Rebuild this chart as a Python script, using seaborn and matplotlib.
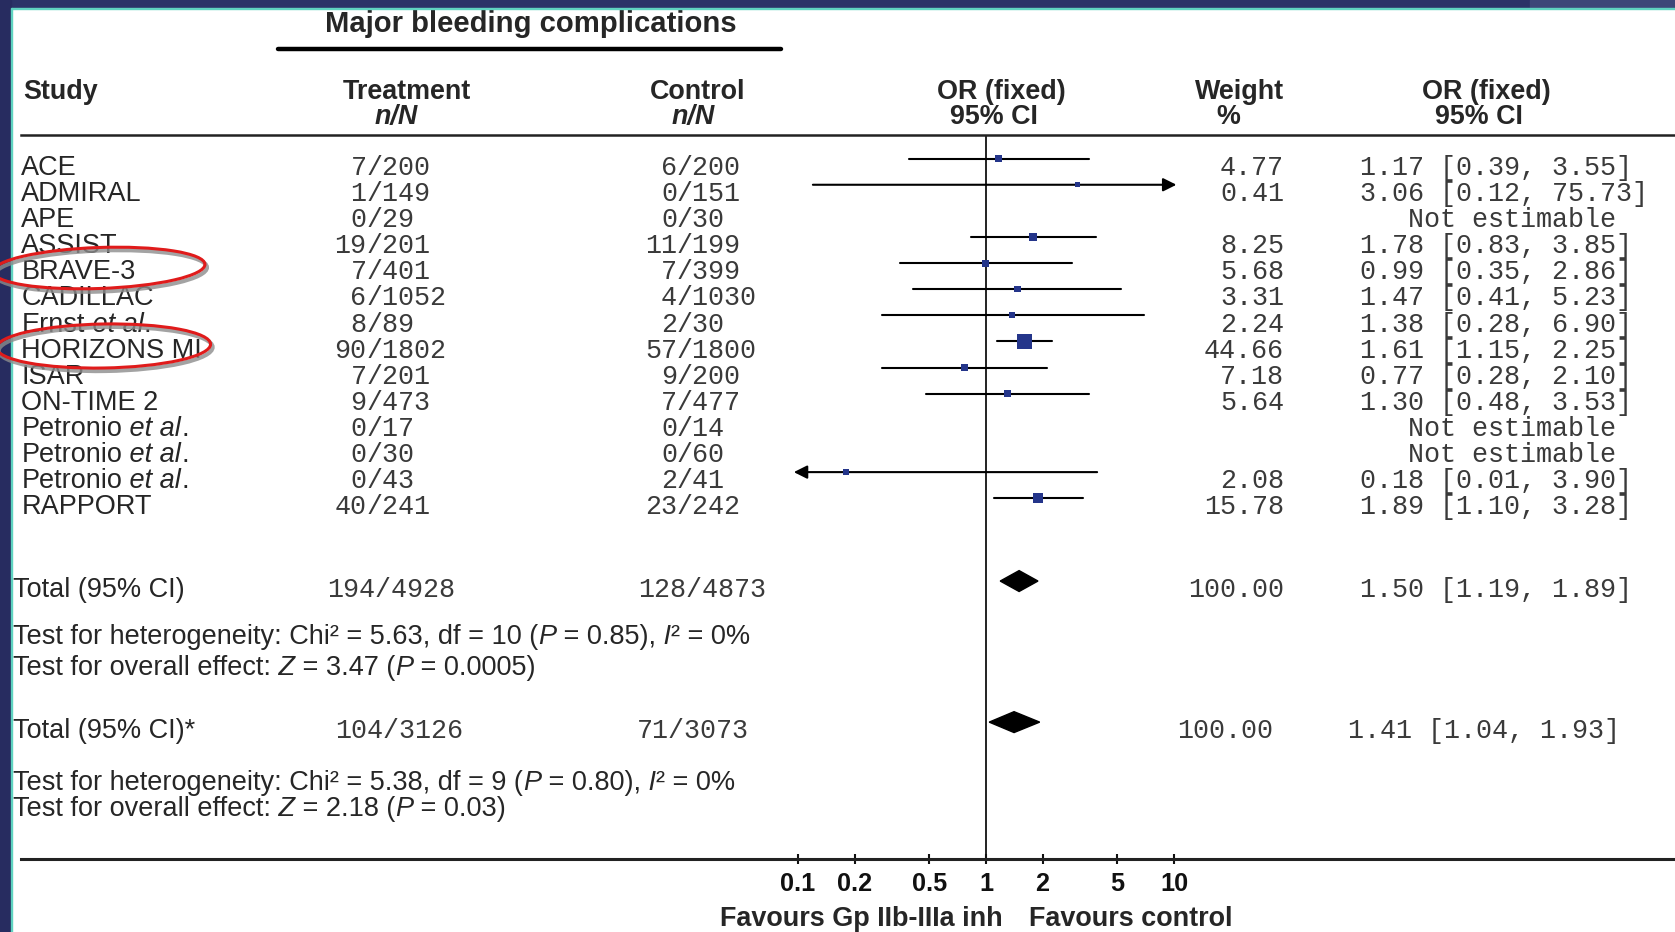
import numpy as np
import pandas as pd
import matplotlib
matplotlib.use("Agg")
import matplotlib.pyplot as plt
import seaborn as sns
from matplotlib.patches import Rectangle, Ellipse
from matplotlib.lines import Line2D
import matplotlib.transforms as mtrans
from matplotlib.ticker import NullLocator

# ---------------- data ----------------
study_names = ["ACE", "ADMIRAL", "APE", "ASSIST", "BRAVE-3", "CADILLAC", "Ernst",
               "HORIZONS MI", "ISAR", "ON-TIME 2", "Petronio", "Petronio", "Petronio", "RAPPORT"]
study_etal = [False, False, False, False, False, False, True,
              False, False, False, True, True, True, False]
treat_n = [7, 1, 0, 19, 7, 6, 8, 90, 7, 9, 0, 0, 0, 40]
treat_N = [200, 149, 29, 201, 401, 1052, 89, 1802, 201, 473, 17, 30, 43, 241]
ctrl_n = [6, 0, 0, 11, 7, 4, 2, 57, 9, 7, 0, 0, 2, 23]
ctrl_N = [200, 151, 30, 199, 399, 1030, 30, 1800, 200, 477, 14, 60, 41, 242]
weights = [4.77, 0.41, np.nan, 8.25, 5.68, 3.31, 2.24, 44.66, 7.18, 5.64, np.nan, np.nan, 2.08, 15.78]
or_est = [1.17, 3.06, np.nan, 1.78, 0.99, 1.47, 1.38, 1.61, 0.77, 1.30, np.nan, np.nan, 0.18, 1.89]
or_lo = [0.39, 0.12, np.nan, 0.83, 0.35, 0.41, 0.28, 1.15, 0.28, 0.48, np.nan, np.nan, 0.01, 1.10]
or_hi = [3.55, 75.73, np.nan, 3.85, 2.86, 5.23, 6.90, 2.25, 2.10, 3.53, np.nan, np.nan, 3.90, 3.28]

total_labels = ["Total (95% CI)", "Total (95% CI)*"]
total_treat = ["194/4928", "104/3126"]
total_ctrl = ["128/4873", "71/3073"]
total_weight = [100.00, 100.00]
total_or = [1.50, 1.41]
total_lo = [1.19, 1.04]
total_hi = [1.89, 1.93]
het_chi2 = ["5.63", "5.38"]
het_df = ["10", "9"]
het_p = ["0.85", "0.80"]
eff_z = ["3.47", "2.18"]
eff_p = ["0.0005", "0.03"]

tick_vals = [0.1, 0.2, 0.5, 1, 2, 5, 10]
tick_labels = ["0.1", "0.2", "0.5", "1", "2", "5", "10"]

# ---------------- fonts ----------------
W, H = 1675, 932
sns.set_theme(style="white")
SANS = "Liberation Sans"
MONO = "Liberation Mono"
plt.rcParams["font.family"] = [SANS, "DejaVu Sans"]

fig = plt.figure(figsize=(W / 100, H / 100), dpi=100)
fig.patch.set_facecolor("white")
renderer = fig.canvas.get_renderer()
pix = mtrans.Affine2D().scale(1 / W, -1 / H).translate(0, 1) + fig.transFigure


def fx(px):
    return px / W


def fy(py):
    return 1 - py / H


def fit(s, target, **kw):
    t = fig.text(0, 0, s, fontsize=10, **kw)
    w = t.get_window_extent(renderer).width
    t.remove()
    return 10 * target / w


FS = fit("Test for heterogeneity: Chi² = 5.63, df = 10 (P = 0.85), I² = 0%", 737)
HF = fit("OR (fixed)", 129, weight="bold")
TF = fit("Major bleeding complications", 411, weight="bold")
FF = fit("Favours Gp IIb-IIIa inh", 283, weight="bold")
TK = fit("0.1", 35.5, weight="bold")
MS = 19.3
MONO_C = "#3a3a3a"


def rich(x_px, y, segs, size, transform=None, **kw):
    x = fx(x_px)
    for s, it in segs:
        t = fig.text(x, y, s, fontsize=size, style="italic" if it else "normal",
                     va="baseline", ha="left",
                     transform=transform if transform is not None else fig.transFigure, **kw)
        x += t.get_window_extent(renderer).width / W


# ---------------- forest axes ----------------
AX_L, AX_T, AX_B = 21, 134.6, 859
ax = fig.add_axes([fx(AX_L), fy(AX_B), 1 - fx(AX_L), (AX_B - AX_T) / H])
ax.set_facecolor("white")
one_px, decade = 986, 188
ax.set_xscale("log")
ax.set_xlim(10 ** ((AX_L - one_px) / decade), 10 ** ((W - one_px) / decade))
ax.set_ylim(26.81, -0.92)
for s in ["left", "right"]:
    ax.spines[s].set_visible(False)
ax.spines["top"].set_linewidth(1.8)
ax.spines["bottom"].set_linewidth(2.2)
ax.spines["top"].set_color("#222222")
ax.spines["bottom"].set_color("#222222")
ax.set_yticks([])
ax.set_xticks(tick_vals)
ax.set_xticklabels(tick_labels)
ax.xaxis.set_minor_locator(NullLocator())
ax.tick_params(axis="x", direction="inout", length=7, width=1.5, pad=6,
               labelsize=TK, bottom=True, colors="#111111")
for lbl in ax.get_xticklabels():
    lbl.set_fontweight("bold")

ax.axvline(1, color="#111111", lw=1.3, zorder=1)

rows = np.arange(len(study_names))
LO_CLIP, HI_CLIP = 0.1, 10
for i in rows:
    if np.isnan(or_est[i]):
        continue
    lo, hi = or_lo[i], or_hi[i]
    if lo < LO_CLIP:
        ax.annotate("", xy=(LO_CLIP * 0.95, i), xytext=(hi, i),
                    arrowprops=dict(arrowstyle="-|>", lw=1.5, color="black",
                                    mutation_scale=20, shrinkA=0, shrinkB=0))
    elif hi > HI_CLIP:
        ax.annotate("", xy=(HI_CLIP * 1.03, i), xytext=(lo, i),
                    arrowprops=dict(arrowstyle="-|>", lw=1.5, color="black",
                                    mutation_scale=20, shrinkA=0, shrinkB=0))
    else:
        ax.plot([lo, hi], [i, i], color="black", lw=1.5, zorder=2)

df = pd.DataFrame({"row": rows, "or": or_est, "w": weights}).dropna()
sns.scatterplot(data=df, x="or", y="row", size="w", sizes=(14, 120), size_norm=(0.41, 44.66),
                marker="s", color="#24358a", edgecolor="#24358a", linewidth=0,
                legend=False, ax=ax, zorder=3)
ax.set_xlabel("")
ax.set_ylabel("")

total_rows = [16.17, 21.57]
for k in range(2):
    y = total_rows[k]
    h = 0.4
    ax.fill([total_lo[k], total_or[k], total_hi[k], total_or[k]], [y, y - h, y, y + h],
            color="black", zorder=3)

# ---------------- table text ----------------
tr = mtrans.blended_transform_factory(fig.transFigure, ax.transData)
OFF = 0.62
TREAT_SLASH, CTRL_SLASH = 366.5, 677
for i in rows:
    y = i + OFF
    segs = [(study_names[i], False)]
    if study_etal[i]:
        segs += [(" et al", True), (".", False)]
    rich(21.4, y, segs, FS, transform=tr)
    mono = dict(transform=tr, fontsize=MS, family=MONO, va="baseline", color=MONO_C)
    fig.text(fx(TREAT_SLASH), y, str(treat_n[i]), ha="right", **mono)
    fig.text(fx(TREAT_SLASH), y, "/" + str(treat_N[i]), ha="left", **mono)
    fig.text(fx(CTRL_SLASH), y, str(ctrl_n[i]), ha="right", **mono)
    fig.text(fx(CTRL_SLASH), y, "/" + str(ctrl_N[i]), ha="left", **mono)
    if np.isnan(or_est[i]):
        fig.text(fx(1408), y, "Not estimable", ha="left", **mono)
    else:
        fig.text(fx(1284), y, f"{weights[i]:.2f}", ha="right", **mono)
        fig.text(fx(1360), y, f"{or_est[i]:.2f} [{or_lo[i]:.2f}, {or_hi[i]:.2f}]", ha="left", **mono)

tot_treat_x = [327, 335.4]
tot_ctrl_x = [638, 636.6]
tot_w_x = [1284, 1273]
tot_or_x = [1360, 1348]
for k in range(2):
    y = total_rows[k] + 0.6
    mono = dict(transform=tr, fontsize=MS, family=MONO, va="baseline", color=MONO_C)
    fig.text(fx(12.8), y, total_labels[k], transform=tr, fontsize=FS, va="baseline")
    fig.text(fx(tot_treat_x[k]), y, total_treat[k], **mono)
    fig.text(fx(tot_ctrl_x[k]), y, total_ctrl[k], **mono)
    fig.text(fx(tot_w_x[k]), y, f"{total_weight[k]:.2f}", ha="right", **mono)
    fig.text(fx(tot_or_x[k]), y, f"{total_or[k]:.2f} [{total_lo[k]:.2f}, {total_hi[k]:.2f}]", **mono)

test_base = [(644, 675), (790, 816)]
for k in range(2):
    b1, b2 = test_base[k]
    rich(12.8, fy(b1), [("Test for heterogeneity: Chi² = " + het_chi2[k] + ", df = " + het_df[k] + " (", False),
                        ("P", True), (" = " + het_p[k] + "),", False), (" I", True), ("² = 0%", False)], FS)
    rich(12.8, fy(b2), [("Test for overall effect:", False), (" Z", True),
                        (" = " + eff_z[k] + " (", False), ("P", True), (" = " + eff_p[k] + ")", False)], FS)

# ---------------- headers ----------------
fig.text(fx(531), fy(32), "Major bleeding complications", fontsize=TF, weight="bold",
         ha="center", va="baseline")
fig.add_artist(Line2D([278, 781], [49, 49], transform=pix, color="black", lw=3.2))
fig.text(fx(23.5), fy(99), "Study", fontsize=HF, weight="bold", ha="left", va="baseline")
hdr = [(407, "Treatment", 396, "n/N"), (697.5, "Control", 693, "n/N"),
       (1001, "OR (fixed)", 993.5, "95% CI"), (1240, "Weight", 1228, "%"),
       (1486, "OR (fixed)", 1479, "95% CI")]
for x1, t1, x2, t2 in hdr:
    fig.text(fx(x1), fy(99), t1, fontsize=HF, weight="bold", ha="center", va="baseline")
    fig.text(fx(x2), fy(124), t2, fontsize=HF, weight="bold", ha="center", va="baseline",
             style="italic" if t2 == "n/N" else "normal")

fig.text(fx(1003), fy(926), "Favours Gp IIb-IIIa inh", fontsize=FF, weight="bold",
         ha="right", va="baseline")
fig.text(fx(1029), fy(926), "Favours control", fontsize=FF, weight="bold",
         ha="left", va="baseline")

# ---------------- slide frame and annotations ----------------
NAVY = "#272c60"
TEAL = "#5fd3c0"
fig.add_artist(Rectangle((0, 0), W, 7.5, transform=pix, color="#2b3367", zorder=10))
fig.add_artist(Rectangle((1530, 0), W - 1530, 7.5, transform=pix, color="#3d4778", zorder=10))
fig.add_artist(Rectangle((0, 7.5), W, 1.5, transform=pix, color=TEAL, zorder=10))
fig.add_artist(Rectangle((0, 0), 10.5, H, transform=pix, color=NAVY, zorder=11))
fig.add_artist(Rectangle((10.5, 7.5), 1.5, H, transform=pix, color=TEAL, zorder=11))

for (cx, cy, w, h, ang) in [(99, 268, 212, 41, -2), (103.6, 346, 214, 44, -1)]:
    fig.add_artist(Ellipse((cx + 2, cy + 3), w, h, angle=ang, transform=pix, fill=False,
                           ec="#8c8c8c", lw=3, alpha=0.8, zorder=12))
    fig.add_artist(Ellipse((cx, cy), w, h, angle=ang, transform=pix, fill=False,
                           ec="#e01b1b", lw=2.2, zorder=13))

fig.savefig("out.png", dpi=100, facecolor="white")
